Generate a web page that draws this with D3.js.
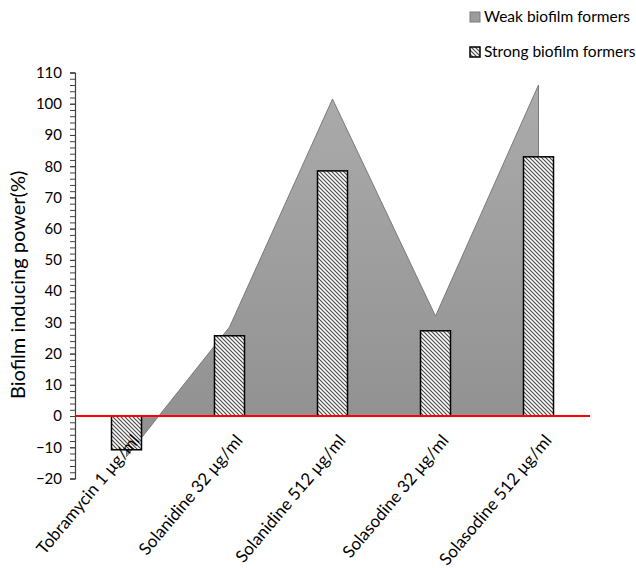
<!DOCTYPE html>
<html><head><meta charset="utf-8">
<script src="https://cdn.jsdelivr.net/npm/d3@7"></script>
<style>body{margin:0;background:#fff}svg{display:block}</style>
</head><body><svg id="c" width="636" height="568"></svg>
<script>
const categories = ["Tobramycin 1 µg/ml","Solanidine 32 µg/ml","Solanidine 512 µg/ml","Solasodine 32 µg/ml","Solasodine 512 µg/ml"];
const weakValues = [-13, 28.5, 101.5, 32, 106];
const strongValues = [-10.8, 25.7, 78.5, 27.3, 83];
const yTickValues = [-20,-10,0,10,20,30,40,50,60,70,80,90,100,110];
const yMinorValues = d3.range(-20, 110.1, 2);
const seriesNames = ["Weak biofilm formers","Strong biofilm formers"];
const yTitle = "Biofilm inducing power(%)";

const FONT = "Lato, 'Open Sans', sans-serif";
const svg = d3.select("#c");
const x = d3.scaleBand().domain(categories).range([75, 590]).padding(0);
const y = d3.scaleLinear().domain([-20, 110]).range([478.5, 72.5]);
const cx = d => x(d) + x.bandwidth() / 2;
const barW = 30;

const defs = svg.append("defs");
const grad = defs.append("linearGradient").attr("id","g").attr("gradientUnits","userSpaceOnUse")
  .attr("x1",0).attr("x2",0).attr("y1",y(110)).attr("y2",y(0));
grad.append("stop").attr("offset",0).attr("stop-color","#acacac");
grad.append("stop").attr("offset",1).attr("stop-color","#929292");
const pat = defs.append("pattern").attr("id","h").attr("patternUnits","userSpaceOnUse")
  .attr("width",4).attr("height",4);
pat.append("rect").attr("width",4).attr("height",4).attr("fill","#fff");
pat.append("path").attr("d","M-1,-1L5,5M-1,3L1,5M3,-1L5,1").attr("stroke","#4a4a4a").attr("stroke-width",1.2);

// area (weak)
const area = d3.area().x((d,i)=>cx(categories[i])).y0(y(0)).y1(d=>y(d));
svg.append("path").datum(weakValues).attr("d", area)
  .attr("fill","url(#g)").attr("stroke","#7a7a7a").attr("stroke-width",1);

// bars (strong)
svg.append("g").selectAll("rect").data(strongValues).join("rect")
  .attr("x",(d,i)=>cx(categories[i]) - barW/2)
  .attr("width",barW)
  .attr("y",d=>y(Math.max(0,d)))
  .attr("height",d=>Math.abs(y(d)-y(0)))
  .attr("fill","url(#h)").attr("stroke","#000").attr("stroke-width",1.5);

// y axis
const ax = svg.append("g").attr("transform",`translate(75,0)`);
ax.call(d3.axisLeft(y).tickValues(yMinorValues).tickFormat("").tickSize(5));
ax.call(g=>g.selectAll("line").attr("stroke","#404040"));
ax.call(g=>g.select(".domain").attr("stroke","#404040").attr("stroke-width",1.2));
const ax2 = svg.append("g").attr("transform",`translate(75,0)`);
ax2.call(d3.axisLeft(y).tickValues(yTickValues).tickSize(5).tickPadding(8));
ax2.select(".domain").remove();
ax2.selectAll("line").attr("stroke","#404040");
ax2.selectAll("text").attr("font-family",FONT).attr("font-size",15).attr("fill","#000");

// zero line
svg.append("line").attr("x1",75).attr("x2",590).attr("y1",y(0)).attr("y2",y(0))
  .attr("stroke","#ff0000").attr("stroke-width",2);

// x labels
svg.append("g").selectAll("text").data(categories).join("text")
  .attr("transform",d=>`translate(${cx(d)+14},${y(0)+25}) rotate(-50)`)
  .attr("text-anchor","end").attr("font-family",FONT).attr("font-size",17).attr("fill","#000")
  .text(d=>d);

// y title
svg.append("text").attr("transform",`translate(25,${y(42)}) rotate(-90)`)
  .attr("text-anchor","middle").attr("font-family",FONT).attr("font-size",20).attr("fill","#000")
  .text(yTitle);

// legend
const lg = svg.append("g");
const strokes = ["#7a7a7a","#000"];
seriesNames.forEach((n,i)=>{
  const yy = 17 + i*35;
  lg.append("rect").attr("x",470).attr("y",yy-5).attr("width",10).attr("height",10)
    .attr("fill",i===0?"#9c9c9c":"url(#h)").attr("stroke",strokes[i]).attr("stroke-width",i===0?1:1.5);
  lg.append("text").attr("x",484).attr("y",yy+5).attr("font-family",FONT).attr("font-size",15.5).attr("fill","#000").text(n);
});
</script></body></html>
